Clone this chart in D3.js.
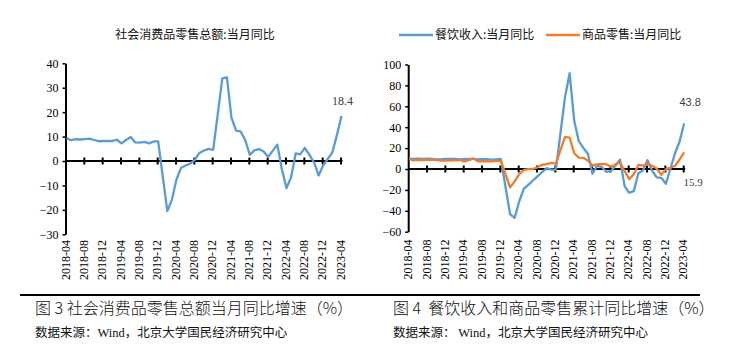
<!DOCTYPE html>
<html>
<head>
<meta charset="utf-8">
<script src="https://cdn.jsdelivr.net/npm/d3@7"></script>
<style>
  body { margin: 0; background: #fff; }
  svg { display: block; }
</style>
</head>
<body>
<svg id="chart" width="741" height="347"></svg>
<script>
// monthly categories 2018-04 .. 2023-04 (January has no separate release -> null)
const months = d3.timeMonth
  .range(new Date(2018, 3, 1), new Date(2023, 4, 1))
  .map(d3.timeFormat("%Y-%m"));

const tickLabels = ["2018-04", "2018-08", "2018-12", "2019-04", "2019-08", "2019-12", "2020-04",
  "2020-08", "2020-12", "2021-04", "2021-08", "2021-12", "2022-04", "2022-08", "2022-12", "2023-04"];

// 社会消费品零售总额:当月同比
const retailTotal = [
  9.4, 8.5, 9.0, 8.8, 9.0, 9.2, 8.6, 8.1, 8.2,
  null, 8.2, 8.7, 7.2, 8.6, 9.8, 7.6, 7.5, 7.8, 7.2, 8.0, 8.0,
  null, -20.5, -15.8, -7.5, -2.8, -1.8, -1.1, 0.5, 3.3, 4.3, 5.0, 4.6,
  null, 33.8, 34.2, 17.7, 12.4, 12.1, 8.5, 2.5, 4.4, 4.9, 3.9, 1.7,
  null, 6.7, -3.5, -11.1, -6.7, 3.1, 2.7, 5.4, 2.5, -0.5, -5.9, -1.8,
  null, 3.5, 10.6, 18.4
];

// 餐饮收入:当月同比
const catering = [
  9.8, 9.6, 9.9, 9.6, 9.8, 9.7, 9.3, 9.4, 9.6,
  null, 9.7, 9.2, 9.5, 9.6, 9.6, 9.2, 9.5, 9.4, 9.0, 9.3, 9.6,
  null, -43.1, -46.8, -31.1, -18.9, -15.2, -11.0, -7.0, -2.9, 0.8, -0.6, -0.6,
  null, 68.9, 91.6, 46.4, 26.6, 20.2, 14.3, -4.5, 3.1, 2.0, -2.7, -2.1,
  null, 8.9, -16.4, -22.7, -21.1, -4.0, -1.5, 8.4, -1.7, -8.1, -8.4, -14.1,
  null, 15.1, 26.3, 43.8
];

// 商品零售:当月同比
const goods = [
  9.2, 8.3, 8.8, 8.6, 8.8, 9.0, 8.4, 8.0, 8.1,
  null, 8.2, 8.6, 7.3, 8.4, 10.0, 7.4, 7.4, 7.6, 7.2, 7.8, 7.9,
  null, -17.6, -12.0, -5.0, -0.8, -0.2, 0.0, 1.6, 4.0, 4.7, 5.8, 5.2,
  null, 30.7, 30.1, 15.1, 10.9, 10.7, 7.9, 3.3, 4.5, 4.9, 4.6, 2.2,
  null, 6.5, -2.1, -9.7, -5.0, 3.9, 3.2, 5.1, 3.0, 0.5, -5.6, -0.1,
  null, 2.9, 9.1, 15.9
];

const leftTicks = [-30, -20, -10, 0, 10, 20, 30, 40];
const rightTicks = [-60, -40, -20, 0, 20, 40, 60, 80, 100];

const blue = "#5B9BD5";
const orange = "#ED7D31";
const numFont = "'Liberation Serif', 'Times New Roman', serif";
const cjkFont = "'Noto Sans CJK SC', sans-serif";

const svg = d3.select("#chart");

const drawPanel = (opt) => {
  const x = d3.scalePoint().domain(months).range(opt.xRange);
  const y = d3.scaleLinear().domain(opt.yDomain).range(opt.yRange);
  const x0 = opt.xRange[0];

  // y axis
  const yAxis = svg.append("g")
    .attr("transform", `translate(${x0},0)`)
    .call(d3.axisLeft(y).tickValues(opt.yTicks).tickSize(3).tickSizeOuter(0).tickPadding(4));
  yAxis.select(".domain").attr("stroke", "#000").attr("stroke-width", 2);
  yAxis.selectAll(".tick line").attr("stroke", "#000").attr("stroke-width", 1.5);
  yAxis.selectAll(".tick text")
    .attr("font-family", numFont).attr("font-size", 12).attr("fill", "#000");

  // x axis at zero with crossing ticks
  const xAxis = svg.append("g")
    .attr("transform", `translate(0,${y(0)})`)
    .call(d3.axisBottom(x).tickValues(tickLabels.slice(1)).tickSize(0).tickFormat(""));
  xAxis.select(".domain").attr("stroke", "#000").attr("stroke-width", 2.2)
    .attr("d", `M${x0},0H${opt.xRange[1] + 2}`);
  xAxis.selectAll(".tick line").attr("y1", -3.5).attr("y2", 3.5)
    .attr("stroke", "#000").attr("stroke-width", 2);

  // rotated category labels at the bottom
  svg.append("g").selectAll("text")
    .data(tickLabels)
    .join("text")
    .attr("transform", (d) => `translate(${x(d)},${opt.labelTop}) rotate(-90)`)
    .attr("text-anchor", "end")
    .attr("dy", "0.35em")
    .attr("font-family", numFont)
    .attr("font-size", 12)
    .text((d) => d);

  const line = d3.line()
    .x((d) => x(d.m) + 1)
    .y((d) => y(d.v));

  opt.series.forEach((s) => {
    const pts = s.values.map((v, i) => ({ m: months[i], v: v })).filter((d) => d.v !== null);
    svg.append("path")
      .attr("fill", "none")
      .attr("stroke", s.color)
      .attr("stroke-width", 2.3)
      .attr("stroke-linejoin", "round")
      .attr("d", line(pts));
  });

  return { x, y };
};

// ---- left panel
const L = drawPanel({
  xRange: [65.5, 340.5],
  yDomain: [-30, 40],
  yRange: [234.3, 63.3],
  yTicks: leftTicks,
  labelTop: 240,
  series: [{ values: retailTotal, color: blue }]
});

svg.append("text")
  .attr("x", 195).attr("y", 39)
  .attr("text-anchor", "middle")
  .attr("font-family", cjkFont).attr("font-size", 12).attr("fill", "#111")
  .text("社会消费品零售总额:当月同比");

svg.append("text")
  .attr("x", L.x("2023-04") + 2).attr("y", L.y(18.4) - 11)
  .attr("text-anchor", "middle")
  .attr("font-family", numFont).attr("font-size", 12).attr("fill", "#404040")
  .text("18.4");

// ---- right panel
const R = drawPanel({
  xRange: [408.2, 683.2],
  yDomain: [-60, 100],
  yRange: [231.7, 64.5],
  yTicks: rightTicks,
  labelTop: 239.5,
  series: [{ values: catering, color: blue }, { values: goods, color: orange }]
});

svg.append("text")
  .attr("x", R.x("2023-04") + 7).attr("y", R.y(43.8) - 17)
  .attr("text-anchor", "middle")
  .attr("font-family", "'Liberation Sans', Arial, sans-serif").attr("font-size", 11).attr("fill", "#404040")
  .text("43.8");

svg.append("text")
  .attr("x", R.x("2023-04") + 10).attr("y", R.y(0) + 17)
  .attr("text-anchor", "middle")
  .attr("font-family", numFont).attr("font-size", 11).attr("fill", "#404040")
  .text("15.9");

// legend
const legendItems = [
  { name: "餐饮收入:当月同比", color: blue, x: 399 },
  { name: "商品零售:当月同比", color: orange, x: 546 }
];
const lg = svg.append("g").selectAll("g").data(legendItems).join("g")
  .attr("transform", (d) => `translate(${d.x},35)`);
lg.append("line").attr("x1", 0).attr("x2", 34)
  .attr("stroke", (d) => d.color).attr("stroke-width", 2.3);
lg.append("text").attr("x", 36).attr("dy", "0.35em")
  .attr("font-family", cjkFont).attr("font-size", 12).attr("fill", "#111")
  .text((d) => d.name);

// ---- bottom rule and captions
svg.append("line")
  .attr("x1", 20).attr("x2", 700).attr("y1", 295).attr("y2", 295)
  .attr("stroke", "#000").attr("stroke-width", 2);

const captions = [
  { t: "图 3 社会消费品零售总额当月同比增速（%）", x: 35 },
  { t: "图 4  餐饮收入和商品零售累计同比增速（%）", x: 393 }
];
svg.append("g").selectAll("text").data(captions).join("text")
  .attr("x", (d) => d.x).attr("y", 314)
  .attr("font-family", cjkFont).attr("font-size", 16).attr("font-weight", 300).attr("fill", "#111")
  .attr("xml:space", "preserve")
  .text((d) => d.t);

const sources = [
  { pre: "数据来源：", x: 35 },
  { pre: "数据来源： ", x: 393 }
];
const src = svg.append("g").selectAll("text").data(sources).join("text")
  .attr("x", (d) => d.x).attr("y", 337)
  .attr("font-size", 12.5).attr("fill", "#111")
  .attr("xml:space", "preserve");
src.append("tspan").attr("font-family", cjkFont).text((d) => d.pre);
src.append("tspan").attr("font-family", numFont).text("Wind");
src.append("tspan").attr("font-family", cjkFont).text("，北京大学国民经济研究中心");
</script>
</body>
</html>
